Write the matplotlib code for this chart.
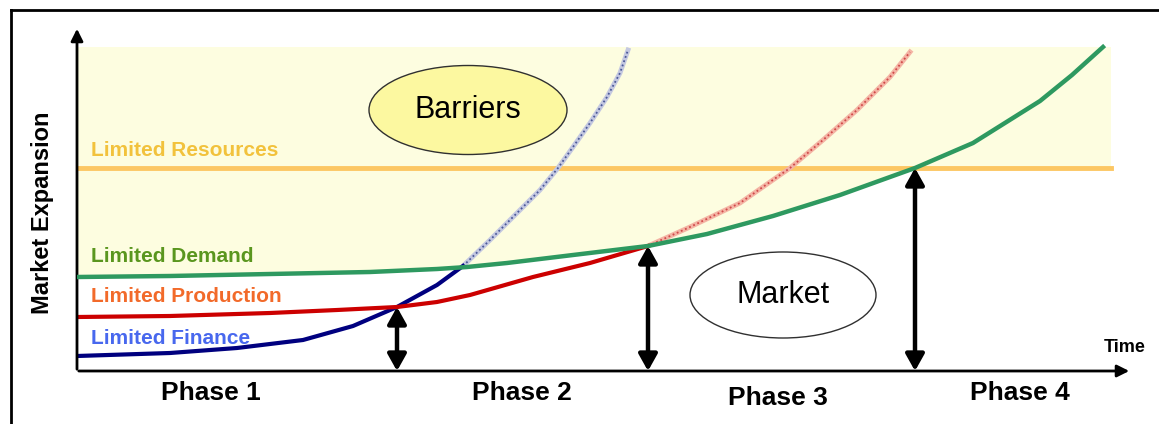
import matplotlib
matplotlib.use('Agg')
import matplotlib.pyplot as plt
from matplotlib.patches import Ellipse, Polygon
from matplotlib.lines import Line2D

plt.rcParams['font.family'] = ['Liberation Sans', 'DejaVu Sans']

# curves (time, market expansion; arbitrary units)
demand_t = [0, 93, 193, 293, 360, 390, 430, 496, 571, 630, 696, 763, 838, 896, 963, 995, 1026]
demand_e = [94, 95, 97, 99, 102, 104, 108, 116, 125, 137, 155, 176, 203, 228, 270, 296, 324]

prod_t = [0, 93, 193, 260, 320, 360, 393, 456, 513, 571]
prod_e = [54, 55, 58, 61, 64, 69, 76, 94, 108, 125]
prod_ext_t = [571, 613, 663, 713, 746, 780, 813, 833]
prod_ext_e = [125, 144, 168, 203, 231, 261, 294, 319]

fin_t = [0, 93, 160, 226, 276, 320, 360, 386]
fin_e = [15, 18, 23, 31, 45, 64, 86, 105]
fin_ext_t = [386, 413, 446, 463, 481, 496, 513, 530, 543, 551]
fin_ext_e = [105, 131, 164, 181, 203, 224, 248, 274, 298, 321]

resources_e = 203
barrier_top = 324
t_end = 1034

# phase boundaries (time, level reached)
bound_t = [320, 571, 838]
bound_e = [64, 125, 203]

phase_labels = ['Phase 1', 'Phase 2', 'Phase 3', 'Phase 4']
phase_t = [134, 445, 701, 943]
phase_dy = [-22, -22, -27, -22]

fig = plt.figure(figsize=(11.59, 4.24), dpi=100)
ax = fig.add_axes([77 / 1159, 53 / 424, 1058 / 1159, 343 / 424])
ax.set_xlim(0, 1058)
ax.set_ylim(0, 343)
ax.axis('off')

# barrier zone (above the demand / resources envelope)
idx = [i for i, t in enumerate(demand_t) if t <= 838]
poly = [(demand_t[i], demand_e[i]) for i in idx]
poly += [(t_end, resources_e), (t_end, barrier_top), (0, barrier_top)]
ax.add_patch(Polygon(poly, closed=True, facecolor='#fdfde0', edgecolor='none', zorder=0))

# resources limit
ax.plot([0, t_end], [resources_e, resources_e], color='#fcc763', lw=3.5, zorder=2)

# extensions beyond the binding limit
ax.plot(fin_ext_t, fin_ext_e, color='#c4c8e0', lw=3.5, zorder=2)
ax.plot(fin_ext_t, fin_ext_e, color='#4a5898', lw=1.3, ls=(0, (1, 1.5)), zorder=2)
ax.plot(prod_ext_t, prod_ext_e, color='#f4b4a4', lw=3.5, zorder=2)
ax.plot(prod_ext_t, prod_ext_e, color='#d04848', lw=1.3, ls=(0, (1, 1.5)), zorder=2)

ax.plot(fin_t, fin_e, color='#00007f', lw=3, zorder=3, solid_joinstyle='round')
ax.plot(prod_t, prod_e, color='#cc0000', lw=3, zorder=3, solid_joinstyle='round')
ax.plot(demand_t, demand_e, color='#2e9960', lw=3.2, zorder=4, solid_joinstyle='round')

# axes arrows
ax.annotate('', xy=(0, 345), xytext=(0, -1), annotation_clip=False,
            arrowprops=dict(arrowstyle='-|>', color='black', lw=2, mutation_scale=18))
ax.annotate('', xy=(1055, 0), xytext=(-1, 0), annotation_clip=False,
            arrowprops=dict(arrowstyle='-|>', color='black', lw=2, mutation_scale=18))

# phase boundary arrows
for t, e in zip(bound_t, bound_e):
    ax.annotate('', xy=(t, e), xytext=(t, 0), zorder=5,
                arrowprops=dict(arrowstyle='<|-|>,head_length=0.5,head_width=0.28',
                                color='black', lw=3.2, mutation_scale=20,
                                shrinkA=0, shrinkB=0))

# ellipses
ax.add_patch(Ellipse((391, 261), 198, 89, facecolor='#fcf8a0', edgecolor='#303030', lw=1, zorder=5))
ax.text(391, 261, 'Barriers', ha='center', va='center', fontsize=22, zorder=6)
ax.add_patch(Ellipse((706, 76), 186, 86, facecolor='white', edgecolor='#303030', lw=1, zorder=5))
ax.text(706, 76, 'Market', ha='center', va='center', fontsize=22, zorder=6)

# limit labels
lab_kw = dict(ha='left', va='center', fontsize=15, fontweight='bold', zorder=6)
ax.text(14, 220, 'Limited Resources', color='#f2c23c', **lab_kw)
ax.text(14, 114, 'Limited Demand', color='#5a961e', **lab_kw)
ax.text(14, 75, 'Limited Production', color='#f26a2a', **lab_kw)
ax.text(14, 33, 'Limited Finance', color='#4868ee', **lab_kw)

for lab, t, dy in zip(phase_labels, phase_t, phase_dy):
    ax.text(t, dy, lab, ha='center', va='center', fontsize=19, fontweight='bold', clip_on=False)

ax.text(1048, 24, 'Time', ha='center', va='center', fontsize=13, fontweight='bold', clip_on=False)
ax.text(-34, 158, 'Market Expansion', ha='center', va='center', rotation=90,
        fontsize=17, fontweight='bold', clip_on=False)

# frame
fig.add_artist(Line2D([11 / 1159, 11 / 1159], [0, 414 / 424], color='black', lw=2))
fig.add_artist(Line2D([11 / 1159, 1], [414 / 424, 414 / 424], color='black', lw=2))

fig.savefig('out.png', dpi=100)
